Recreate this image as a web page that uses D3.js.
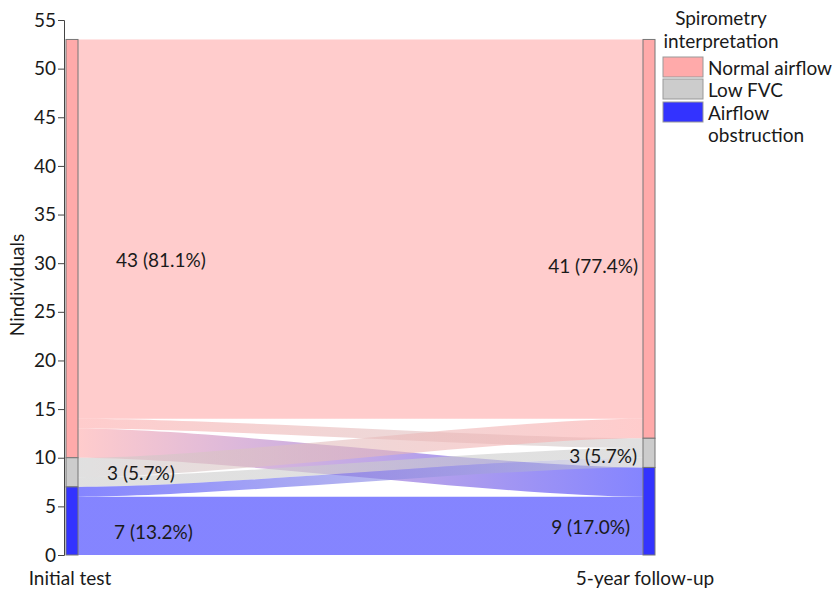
<!DOCTYPE html>
<html>
<head>
<meta charset="utf-8">
<script src="https://cdn.jsdelivr.net/npm/d3@7"></script>
<style>
  body { margin: 0; background: #fff; }
  text { font-family: Lato, "Open Sans", sans-serif; fill: #1a1a1a; }
</style>
</head>
<body>
<svg width="840" height="590"></svg>
<script>
// data
var stages = ["Initial test", "5-year follow-up"];
var categories = ["Normal airflow", "Low FVC", "Airflow obstruction"];
var colors = ["#ffaaaa", "#cccccc", "#3333ff"];
var flowFrom = ["Normal airflow", "Normal airflow", "Normal airflow", "Low FVC", "Low FVC", "Airflow obstruction", "Airflow obstruction"];
var flowTo = ["Normal airflow", "Low FVC", "Airflow obstruction", "Normal airflow", "Low FVC", "Low FVC", "Airflow obstruction"];
var flowCount = [39, 1, 3, 2, 1, 1, 6];
var leftLabels = ["43 (81.1%)", "3 (5.7%)", "7 (13.2%)"];
var rightLabels = ["41 (77.4%)", "3 (5.7%)", "9 (17.0%)"];
var yTicks = d3.range(0, 56, 5);

var svg = d3.select("svg");
var x0 = 66, x1 = 643, sw = 12;
var fs = "19px";

var y = d3.scaleLinear().domain([0, 55]).range([555, 20]);
var color = d3.scaleOrdinal().domain(categories).range(colors);

var flows = flowFrom.map(function(f, i) {
  return {from: f, to: flowTo[i], n: flowCount[i]};
});
var total = d3.sum(flowCount);

// stratum totals, stacked with first category on top
function strata(key) {
  var top = total;
  return categories.map(function(c) {
    var n = d3.sum(flows.filter(function(d) { return d[key] === c; }), function(d) { return d.n; });
    var s = {cat: c, top: top, bottom: top - n, n: n};
    top -= n;
    return s;
  });
}
var left = strata("from"), right = strata("to");

// lode positions inside each stratum
left.forEach(function(s) {
  var t = s.top;
  categories.forEach(function(c) {
    flows.forEach(function(f) {
      if (f.from === s.cat && f.to === c) { f.y0a = t; f.y0b = t - f.n; t -= f.n; }
    });
  });
});
right.forEach(function(s) {
  var t = s.top;
  categories.forEach(function(c) {
    flows.forEach(function(f) {
      if (f.to === s.cat && f.from === c) { f.y1a = t; f.y1b = t - f.n; t -= f.n; }
    });
  });
});

var defs = svg.append("defs");
var fx0 = x0 + sw, fx1 = x1;
var ca = fx0 + (fx1 - fx0) / 4, cb = fx1 - (fx1 - fx0) / 4;

flows.forEach(function(f, i) {
  var g = defs.append("linearGradient")
    .attr("id", "grad" + i)
    .attr("gradientUnits", "userSpaceOnUse")
    .attr("x1", fx0).attr("x2", fx1).attr("y1", 0).attr("y2", 0);
  g.append("stop").attr("offset", "0%").attr("stop-color", color(f.from));
  g.append("stop").attr("offset", "100%").attr("stop-color", color(f.to));
});

function flowPath(f) {
  var p = d3.path();
  p.moveTo(fx0, y(f.y0a));
  p.bezierCurveTo(ca, y(f.y0a), cb, y(f.y1a), fx1, y(f.y1a));
  p.lineTo(fx1, y(f.y1b));
  p.bezierCurveTo(cb, y(f.y1b), ca, y(f.y0b), fx0, y(f.y0b));
  p.closePath();
  return p.toString();
}

svg.append("g").selectAll("path")
  .data(flows)
  .enter().append("path")
  .attr("d", flowPath)
  .attr("fill", function(d, i) { return "url(#grad" + i + ")"; })
  .attr("fill-opacity", 0.6);

// strata bars
[[left, x0], [right, x1]].forEach(function(p) {
  svg.append("g").selectAll("rect")
    .data(p[0])
    .enter().append("rect")
    .attr("x", p[1])
    .attr("y", function(d) { return y(d.top); })
    .attr("width", sw)
    .attr("height", function(d) { return y(d.bottom) - y(d.top); })
    .attr("fill", function(d) { return color(d.cat); })
    .attr("stroke", "#777")
    .attr("stroke-width", 1);
});

// labels
var leftPos = [[116, 30.3], [107, 8.4], [114, 2.3]];
var rightPos = [[638, 29.7], [637, 10.1], [630, 2.8]];
svg.append("g").selectAll("text")
  .data(leftLabels)
  .enter().append("text")
  .attr("x", function(d, i) { return leftPos[i][0]; })
  .attr("y", function(d, i) { return y(leftPos[i][1]); })
  .attr("dy", "0.35em")
  .style("font-size", fs)
  .text(function(d) { return d; });
svg.append("g").selectAll("text")
  .data(rightLabels)
  .enter().append("text")
  .attr("x", function(d, i) { return rightPos[i][0]; })
  .attr("y", function(d, i) { return y(rightPos[i][1]); })
  .attr("dy", "0.35em")
  .attr("text-anchor", "end")
  .style("font-size", fs)
  .text(function(d) { return d; });

// axis
var ax = svg.append("g")
  .attr("transform", "translate(64,0)")
  .call(d3.axisLeft(y).tickValues(yTicks).tickSizeOuter(0).tickSize(6).tickPadding(2));
ax.select(".domain").attr("stroke", "#444");
ax.selectAll(".tick line").attr("stroke", "#444");
ax.selectAll(".tick text").style("font-size", fs).style("font-family", "Lato, sans-serif").attr("fill", "#1a1a1a");

svg.append("text")
  .attr("transform", "translate(24,285) rotate(-90)")
  .attr("text-anchor", "middle")
  .style("font-size", fs)
  .text("Nindividuals");

svg.selectAll(".stage")
  .data(stages)
  .enter().append("text")
  .attr("class", "stage")
  .attr("x", function(d, i) { return i === 0 ? 70 : 645; })
  .attr("y", 585)
  .attr("text-anchor", "middle")
  .style("font-size", fs)
  .text(function(d) { return d; });

// legend
var lg = svg.append("g");
lg.append("text").attr("x", 721).attr("y", 25).attr("text-anchor", "middle").style("font-size", fs).text("Spirometry");
lg.append("text").attr("x", 721).attr("y", 48).attr("text-anchor", "middle").style("font-size", fs).text("interpretation");
var keyY = [57, 79, 102];
var keyText = [["Normal airflow"], ["Low FVC"], ["Airflow", "obstruction"]];
categories.forEach(function(c, i) {
  lg.append("rect")
    .attr("x", 663).attr("y", keyY[i]).attr("width", 40).attr("height", 20)
    .attr("fill", color(c)).attr("stroke", "#999").attr("stroke-width", 1);
  keyText[i].forEach(function(t, j) {
    lg.append("text")
      .attr("x", 708).attr("y", keyY[i] + 11 + j * 22)
      .attr("dy", "0.35em")
      .style("font-size", fs)
      .text(t);
  });
});
</script>
</body>
</html>
